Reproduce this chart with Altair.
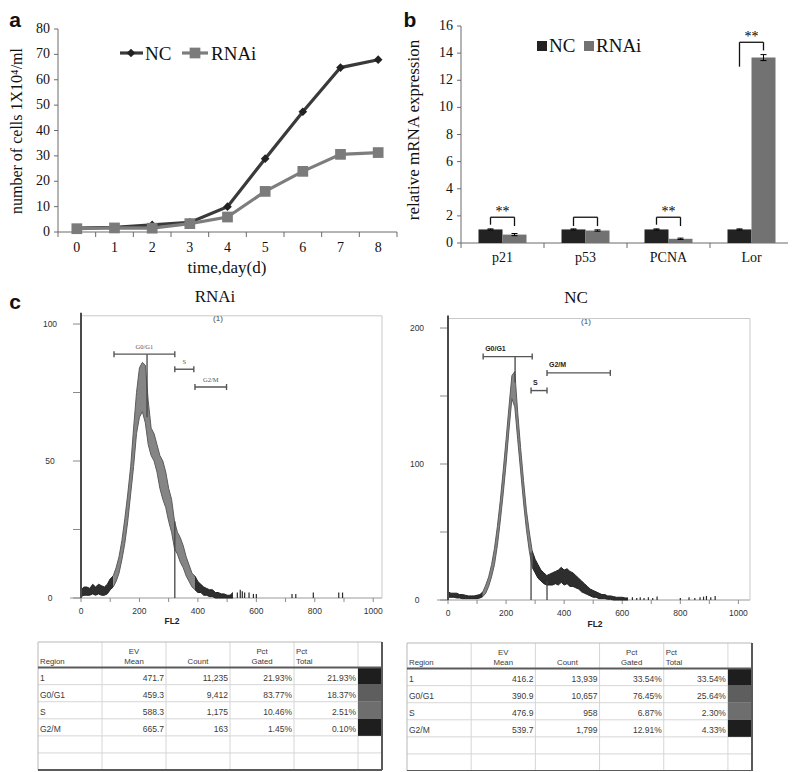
import altair as alt
import pandas as pd

OX, OY = 8, 8          # page margin: reference pixel -> chart pixel
W, H = 780, 763
SERIF = "Liberation Serif"
SANS = "Liberation Sans"

# ---------------- panel a : growth curve ----------------
days = [0, 1, 2, 3, 4, 5, 6, 7, 8]
nc_cells = [1.5, 1.8, 2.8, 3.8, 10.0, 28.9, 47.4, 64.8, 67.9]
rnai_cells = [1.3, 1.6, 1.5, 3.3, 5.9, 16.0, 23.9, 30.6, 31.3]
a_yticks = [0, 10, 20, 30, 40, 50, 60, 70, 80]

# ---------------- panel b : qPCR ----------------
genes = ["p21", "p53", "PCNA", "Lor"]
nc_expr = [1.0, 1.0, 1.0, 1.0]
nc_err = [0.04, 0.04, 0.04, 0.04]
rnai_expr = [0.62, 0.92, 0.31, 13.67]
rnai_err = [0.08, 0.05, 0.05, 0.22]
sig_marks = ["**", "", "**", "**"]
brk_top = [1.9, 1.9, 1.9, 14.8]
brk_left = [1.35, 1.25, 1.35, 13.0]
brk_right = [1.25, 1.25, 1.25, 14.2]
b_yticks = [0, 2, 4, 6, 8, 10, 12, 14, 16]

# ---------------- panel c : DNA histograms ----------------
rnai_ch = list(range(0, 530, 10))
rnai_lo = [0.5, 1, 1, 1, 1.5, 1, 1.5, 1, 1, 1.5,
           3, 4, 6, 9, 14, 20, 28, 38, 48, 60,
           66, 68, 64, 56, 52, 50, 46, 40, 36, 33,
           28, 24, 18, 16, 13, 11, 8, 6, 4, 3,
           2, 2, 1, 1, 0.5, 0.5, 0, 0, 0, 0,
           0, 0, 0]
rnai_hi = [3, 4, 4, 3.5, 5, 4, 5, 4.5, 4, 5,
           7, 8, 11, 15, 21, 29, 38, 48, 62, 75,
           84, 86, 85, 72, 62, 60, 56, 52, 50, 46,
           40, 36, 28, 24, 22, 19, 15, 12, 9, 8,
           6, 5, 4, 3.5, 3, 3, 2, 2, 1.5, 1.5,
           1, 1, 2]
rnai_spike_ch = [535, 545, 552, 560, 575, 590, 600, 722, 735, 795, 882, 895]
rnai_spike_h = [2, 3, 2.5, 2, 2, 1.5, 1.5, 1.5, 1.5, 2, 2, 2]
rnai_gate_names = ["G0/G1", "S", "G2/M"]
rnai_gate_start = [113, 321, 390]
rnai_gate_end = [321, 386, 498]
rnai_gate_level = [89, 83.5, 77]
rnai_marker_ch = [226, 321]
rnai_marker_lo = [66, 0]
rnai_marker_hi = [89, 28]

nc_ch = list(range(0, 630, 10))
nc_lo = [2, 2, 2, 1.5, 1.5, 1, 1, 1, 1, 1,
         1, 1.5, 2.5, 5, 10, 17, 26, 40, 58, 78,
         100, 125, 148, 142, 118, 95, 72, 52, 36, 24,
         20, 16, 14, 12, 11, 11, 11, 12, 11, 13,
         11, 12, 10, 10, 9, 8, 6, 5, 4, 3,
         2, 2, 1, 1, 1, 0.5, 0.5, 0, 0, 0,
         0, 0, 0]
nc_hi = [6, 5, 5, 5, 4, 4, 3.5, 3, 3, 3,
         3.5, 4, 6, 11, 17, 26, 38, 54, 73, 95,
         118, 142, 165, 168, 138, 112, 88, 66, 50, 36,
         30, 26, 22, 20, 18, 19, 20, 21, 22, 24,
         22, 23, 21, 20, 18, 16, 14, 12, 10, 8,
         7, 6, 5, 4, 4, 3, 3, 2.5, 2, 2,
         2, 1.5, 1.5]
nc_spike_ch = [635, 650, 662, 675, 690, 705, 720, 800, 830, 850, 868, 880, 890, 905, 920]
nc_spike_h = [2, 1.5, 2, 1.5, 2, 1.5, 2.5, 1.5, 2, 1.5, 2, 2.5, 3, 2, 3]
nc_gate_names = ["G0/G1", "S", "G2/M"]
nc_gate_start = [121, 286, 341]
nc_gate_end = [290, 341, 559]
nc_gate_level = [179, 154, 167]
nc_marker_ch = [231, 286, 341]
nc_marker_lo = [160, 0, 0]
nc_marker_hi = [179, 35, 14]

# ---------------- tables ----------------
tbl_regions = ["1", "G0/G1", "S", "G2/M"]
rnai_ev = ["471.7", "459.3", "588.3", "665.7"]
rnai_count = ["11,235", "9,412", "1,175", "163"]
rnai_gated = ["21.93%", "83.77%", "10.46%", "1.45%"]
rnai_total = ["21.93%", "18.37%", "2.51%", "0.10%"]
nc_ev = ["416.2", "390.9", "476.9", "539.7"]
nc_count = ["13,939", "10,657", "958", "1,799"]
nc_gated = ["33.54%", "76.45%", "6.87%", "12.91%"]
nc_total = ["33.54%", "25.64%", "2.30%", "4.33%"]
swatch_colors = ["#1e1e1e", "#5e5e5e", "#6e6e6e", "#1e1e1e"]


class Panel:
    def __init__(self, xd, xr, yd, yr):
        self.xs = alt.Scale(domain=list(xd), range=[xr[0] - OX, xr[1] - OX], nice=False, zero=False)
        self.ys = alt.Scale(domain=list(yd), range=[yr[0] - OY, yr[1] - OY], nice=False, zero=False)
        self.kx = abs(xr[1] - xr[0]) / (xd[1] - xd[0])
        self.ky = abs(yr[1] - yr[0]) / (yd[1] - yd[0])

    def enc(self, x, y, **kw):
        d = {"x": alt.X(f"{x}:Q", scale=self.xs, axis=None),
             "y": alt.Y(f"{y}:Q", scale=self.ys, axis=None)}
        d.update(kw)
        return d


layers = []


def add(c):
    layers.append(c)


def rules(p, df, x, y, x2=None, y2=None, color="#000000", w=1.0):
    kw = {}
    if x2:
        kw["x2"] = alt.X2(x2)
    if y2:
        kw["y2"] = alt.Y2(y2)
    add(alt.Chart(df).mark_rule(color=color, strokeWidth=w).encode(**p.enc(x, y, **kw)))


def texts(p, df, x, y, t, **mk):
    add(alt.Chart(df).mark_text(**mk).encode(**p.enc(x, y, text=alt.Text(f"{t}:N"))))


def label(s, px, py, **mk):
    add(alt.Chart(pd.DataFrame({"t": [s]})).mark_text(**mk).encode(
        x=alt.value(px - OX), y=alt.value(py - OY), text="t:N"))


def pix_rule(x1, y1, x2, y2, color, w):
    add(alt.Chart(pd.DataFrame({"k": [0]})).mark_rule(color=color, strokeWidth=w).encode(
        x=alt.value(x1 - OX), x2=alt.value(x2 - OX), y=alt.value(y1 - OY), y2=alt.value(y2 - OY)))


def pix_point(px, py, shape, size, color):
    add(alt.Chart(pd.DataFrame({"k": [0]})).mark_point(shape=shape, size=size, filled=True,
                                                       color=color, opacity=1).encode(
        x=alt.value(px - OX), y=alt.value(py - OY)))


# =============== panel a ===============
pa = Panel([-0.5, 8.5], [58, 397], [0, 80], [232, 29])
AX = "#6b6b6b"
ax_a = pd.DataFrame({"x0": [-0.5], "x1": [8.5], "y0": [0], "y1": [80]})
rules(pa, ax_a, "x0", "y0", x2="x1", color=AX)
rules(pa, ax_a, "x0", "y0", y2="y1", color=AX)
xt = pd.DataFrame({"x": [k - 0.5 for k in range(10)]})
xt["y0"] = 0
xt["y1"] = -5 / pa.ky
rules(pa, xt, "x", "y0", y2="y1", color=AX)
yt = pd.DataFrame({"y": a_yticks})
yt["x0"] = -0.5
yt["x1"] = -0.5 - 4 / pa.kx
yt["t"] = [str(v) for v in a_yticks]
rules(pa, yt, "x0", "y", x2="x1", color=AX)
texts(pa, yt, "x0", "y", "t", align="right", baseline="middle", dx=-8, font=SERIF, fontSize=14, color="#111")
xl = pd.DataFrame({"x": days, "y": 0, "t": [str(d) for d in days]})
texts(pa, xl, "x", "y", "t", align="center", baseline="middle", dy=16, font=SERIF, fontSize=14, color="#111")

grow = pd.DataFrame({"day": days, "nc": nc_cells, "rnai": rnai_cells})
add(alt.Chart(grow).mark_line(color="#3a3a3a", strokeWidth=3.2).encode(**pa.enc("day", "nc")))
add(alt.Chart(grow).mark_point(shape="diamond", filled=True, size=75, color="#222222", opacity=1)
    .encode(**pa.enc("day", "nc")))
add(alt.Chart(grow).mark_line(color="#7d7d7d", strokeWidth=3.2).encode(**pa.enc("day", "rnai")))
add(alt.Chart(grow).mark_point(shape="square", filled=True, size=115, color="#7b7b7b", opacity=1)
    .encode(**pa.enc("day", "rnai")))

# legend a
pix_rule(120, 53, 143, 53, "#3a3a3a", 3.2)
pix_point(131, 53, "diamond", 75, "#222222")
label("NC", 145, 54, align="left", baseline="middle", font=SERIF, fontSize=19, color="#111")
pix_rule(182, 53, 208, 53, "#7d7d7d", 3.2)
pix_point(195, 53, "square", 115, "#7b7b7b")
label("RNAi", 211, 54, align="left", baseline="middle", font=SERIF, fontSize=19, color="#111")

label("number of cells  1X10\u2074/ml", 17, 131, angle=270, align="center", baseline="middle",
      font=SERIF, fontSize=16, color="#111")
label("time,day(d)", 227, 268, align="center", baseline="middle", font=SERIF, fontSize=17, color="#111")
label("a", 15, 10, align="center", baseline="top", font=SANS, fontSize=21, fontWeight="bold", color="#111")

# =============== panel b ===============
pb = Panel([0, 4], [461, 793], [0, 16], [243, 26])
ax_b = pd.DataFrame({"x0": [0], "x1": [4], "y0": [0], "y1": [16]})
rules(pb, ax_b, "x0", "y0", x2="x1", color=AX)
rules(pb, ax_b, "x0", "y0", y2="y1", color=AX)
bxt = pd.DataFrame({"x": [0, 1, 2, 3, 4]})
bxt["y0"] = 0
bxt["y1"] = -5 / pb.ky
rules(pb, bxt, "x", "y0", y2="y1", color=AX)
byt = pd.DataFrame({"y": b_yticks})
byt["x0"] = 0
byt["x1"] = -4 / pb.kx
byt["t"] = [str(v) for v in b_yticks]
rules(pb, byt, "x0", "y", x2="x1", color=AX)
texts(pb, byt, "x0", "y", "t", align="right", baseline="middle", dx=-8, font=SERIF, fontSize=14, color="#111")
bcat = pd.DataFrame({"x": [i + 0.5 for i in range(4)], "y": 0, "t": genes})
texts(pb, bcat, "x", "y", "t", align="center", baseline="middle", dy=15, font=SERIF, fontSize=14, color="#111")

bw = 24 / pb.kx
cw = 3 / pb.kx
rows = []
for i, g in enumerate(genes):
    c = i + 0.5
    rows.append(dict(g=g, x0=c - bw, x1=c, v=nc_expr[i], e=nc_err[i], col="#222222"))
    rows.append(dict(g=g, x0=c, x1=c + bw, v=rnai_expr[i], e=rnai_err[i], col="#727272"))
bars = pd.DataFrame(rows)
bars["zero"] = 0.0
bars["xc"] = (bars["x0"] + bars["x1"]) / 2
bars["lo"] = bars["v"] - bars["e"]
bars["hi"] = bars["v"] + bars["e"]
bars["cl"] = bars["xc"] - cw
bars["cr"] = bars["xc"] + cw
add(alt.Chart(bars).mark_rect().encode(**pb.enc("x0", "zero", x2=alt.X2("x1"), y2=alt.Y2("v"),
                                                  color=alt.Color("col:N", scale=None))))
rules(pb, bars, "xc", "lo", y2="hi", color="#000", w=1)
rules(pb, bars, "cl", "hi", x2="cr", color="#000", w=1)
rules(pb, bars, "cl", "lo", x2="cr", color="#000", w=1)

brk = pd.DataFrame({"xl": [i + 0.5 - bw / 2 for i in range(4)],
                    "xr": [i + 0.5 + bw / 2 for i in range(4)],
                    "mid": [i + 0.5 for i in range(4)],
                    "top": brk_top, "lb": brk_left, "rb": brk_right, "s": sig_marks})
rules(pb, brk, "xl", "lb", y2="top", color="#111", w=1.3)
rules(pb, brk, "xr", "rb", y2="top", color="#111", w=1.3)
rules(pb, brk, "xl", "top", x2="xr", color="#111", w=1.3)
texts(pb, brk, "mid", "top", "s", align="center", baseline="middle", dy=-5, font=SERIF, fontSize=14, color="#000000")

# legend b
add(alt.Chart(pd.DataFrame({"k": [0]})).mark_square(size=100, color="#222222", opacity=1).encode(
    x=alt.value(542 - OX), y=alt.value(46 - OY)))
label("NC", 549, 46, align="left", baseline="middle", font=SERIF, fontSize=19, color="#111")
add(alt.Chart(pd.DataFrame({"k": [0]})).mark_square(size=100, color="#727272", opacity=1).encode(
    x=alt.value(589 - OX), y=alt.value(46 - OY)))
label("RNAi", 596, 46, align="left", baseline="middle", font=SERIF, fontSize=19, color="#111")
label("relative  mRNA expression", 414, 130, angle=270, align="center", baseline="middle",
      font=SERIF, fontSize=17, color="#111")
label("b", 410, 10, align="center", baseline="top", font=SANS, fontSize=21, fontWeight="bold", color="#111")


# =============== panel c : histograms ===============
def histogram(p, xmax, ymax, ch, lo, hi, segs, sp_ch, sp_h, g_names, g_start, g_end, g_lev,
              m_ch, m_lo, m_hi, yticks, ylabels, serif_gates):
    fr = pd.DataFrame({"x0": [0], "xl": [-11 / p.kx], "xm": [xmax], "y0": [0], "ym": [ymax],
                       "yt": [ymax + 3 / p.ky]})
    rules(p, fr, "xl", "y0", x2="xm", color="#9a9a9a")
    rules(p, fr, "x0", "ym", x2="xm", color="#c9c9c9")
    rules(p, fr, "xm", "y0", y2="ym", color="#c9c9c9")
    ytk = pd.DataFrame({"y": yticks})
    ytk["x0"] = 0
    ytk["x1"] = -8 / p.kx
    rules(p, ytk, "x0", "y", x2="x1", color="#8a8a8a")
    ylb = pd.DataFrame({"y": ylabels, "x": 0, "t": [str(v) for v in ylabels]})
    texts(p, ylb, "x", "y", "t", align="center", baseline="middle", dx=-31, font=SANS, fontSize=8.5,
          color="#333")
    xtk = pd.DataFrame({"x": list(range(0, 1001, 100))})
    xtk["y0"] = 0
    xtk["y1"] = -4 / p.ky
    rules(p, xtk, "x", "y0", y2="y1", color="#8a8a8a")
    xlb = pd.DataFrame({"x": list(range(0, 1001, 200)), "y": 0})
    xlb["t"] = [str(v) for v in xlb["x"]]
    texts(p, xlb, "x", "y", "t", align="center", baseline="middle", dy=13, font=SANS, fontSize=8.5,
          color="#333")

    df = pd.DataFrame({"ch": ch, "lo": lo, "hi": hi})
    for a, b, kind in segs:
        sub = df[(df.ch >= a) & (df.ch <= b)]
        fill, line = ("#858585", "#5c5c5c") if kind == "g" else ("#2e2e2e", "#222222")
        add(alt.Chart(sub).mark_area(color=fill, opacity=1).encode(**p.enc("ch", "lo", y2=alt.Y2("hi"))))
        add(alt.Chart(sub).mark_line(color=line, strokeWidth=1).encode(**p.enc("ch", "hi")))
        add(alt.Chart(sub).mark_line(color=line, strokeWidth=1).encode(**p.enc("ch", "lo")))
    sp = pd.DataFrame({"ch": sp_ch, "h": sp_h, "z": 0})
    rules(p, sp, "ch", "z", y2="h", color="#2a2a2a", w=1.2)

    # left thick axis line drawn over the data
    rules(p, fr, "x0", "y0", y2="yt", color="#4a4a4a", w=2)

    mk = pd.DataFrame({"x": m_ch, "a": m_lo, "b": m_hi})
    rules(p, mk, "x", "a", y2="b", color="#444", w=1.3)

    cap = 3 / p.ky
    gt = pd.DataFrame({"n": g_names, "g0": g_start, "g1": g_end, "lev": g_lev})
    gt["c0"] = gt["lev"] - cap
    gt["c1"] = gt["lev"] + cap
    gt["mid"] = (gt["g0"] + gt["g1"]) / 2
    rules(p, gt, "g0", "lev", x2="g1", color="#555", w=1.4)
    rules(p, gt, "g0", "c0", y2="c1", color="#555", w=1.4)
    rules(p, gt, "g1", "c0", y2="c1", color="#555", w=1.4)
    if serif_gates:
        texts(p, gt, "mid", "lev", "n", align="center", baseline="middle", dy=-7, font=SERIF,
              fontSize=6.5, color="#555555")
    else:
        texts(p, gt, "g0", "lev", "n", align="left", baseline="middle", dx=2, dy=-8, font=SANS,
              fontSize=7, fontWeight="bold", color="#222")


pr = Panel([0, 1030], [81, 382], [0, 103], [598, 315.8])
histogram(pr, 1030, 103, rnai_ch, rnai_lo, rnai_hi, [(0, 110, "d"), (110, 390, "g"), (390, 520, "d")],
          rnai_spike_ch, rnai_spike_h, rnai_gate_names, rnai_gate_start, rnai_gate_end, rnai_gate_level,
          rnai_marker_ch, rnai_marker_lo, rnai_marker_hi, [0, 25, 50, 75, 100], [0, 50, 100], True)
pn = Panel([0, 1040], [448, 750], [0, 207], [600, 318.5])
histogram(pn, 1040, 207, nc_ch, nc_lo, nc_hi, [(0, 120, "d"), (120, 290, "g"), (290, 620, "d")],
          nc_spike_ch, nc_spike_h, nc_gate_names, nc_gate_start, nc_gate_end, nc_gate_level,
          nc_marker_ch, nc_marker_lo, nc_marker_hi, [0, 50, 100, 150, 200], [0, 100, 200], False)

label("RNAi", 215, 297, align="center", baseline="middle", font=SERIF, fontSize=17, color="#111")
label("NC", 576, 298, align="center", baseline="middle", font=SERIF, fontSize=17, color="#111")
label("(1)", 218, 319, align="center", baseline="middle", font=SANS, fontSize=8, color="#444444")
label("(1)", 586, 322, align="center", baseline="middle", font=SANS, fontSize=8, color="#444444")
label("FL2", 172, 621, align="center", baseline="middle", font=SANS, fontSize=8.5, fontWeight="bold", color="#222")
label("FL2", 595, 624, align="center", baseline="middle", font=SANS, fontSize=8.5, fontWeight="bold", color="#222")
label("c", 15, 303, align="center", baseline="middle", font=SANS, fontSize=21, fontWeight="bold", color="#111")


# =============== tables ===============
def table(p, ev, count, gated, total):
    light, dark = "#d6d6d6", "#5a5a5a"
    fr = pd.DataFrame({"x0": [0], "x1": [5.375], "y0": [-1.5], "y1": [6], "yh": [0]})
    vl = pd.DataFrame({"x": [1, 2, 3, 4, 5], "y0": -1.5, "y1": 6})
    rules(p, vl, "x", "y0", y2="y1", color=light)
    hl = pd.DataFrame({"y": [1, 2, 3, 4, 5], "x0": 0, "x1": 5.375})
    rules(p, hl, "x0", "y", x2="x1", color=light)
    sw = pd.DataFrame({"x0": 5, "x1": 5.375, "y0": [0, 1, 2, 3], "y1": [1, 2, 3, 4], "col": swatch_colors})
    add(alt.Chart(sw).mark_rect().encode(**p.enc("x0", "y0", x2=alt.X2("x1"), y2=alt.Y2("y1"),
                                                   color=alt.Color("col:N", scale=None))))
    rules(p, fr, "x0", "y0", x2="x1", color="#b8b8b8")
    rules(p, fr, "x0", "y0", y2="y1", color="#b8b8b8")
    rules(p, fr, "x0", "yh", x2="x1", color=dark, w=2)
    rules(p, fr, "x1", "y0", y2="y1", color=dark, w=2)
    rules(p, fr, "x0", "y1", x2="x1", color=dark, w=2)

    hs = dict(font=SANS, fontSize=7.8, color="#3a3a3a", baseline="middle")
    st = dict(font=SANS, fontSize=8.5, color="#3a3a3a", baseline="middle")
    hc = pd.DataFrame({"x": [1.5, 1.5, 2.5, 3.5, 3.5], "y": [-0.9, -0.3, -0.3, -0.9, -0.3],
                       "t": ["EV", "Mean", "Count", "Pct", "Gated"]})
    texts(p, hc, "x", "y", "t", align="center", **hs)
    hlft = pd.DataFrame({"x": [0, 4, 4], "y": [-0.3, -0.9, -0.3], "t": ["Region", "Pct", "Total"]})
    texts(p, hlft, "x", "y", "t", align="left", dx=2, **hs)
    reg = pd.DataFrame({"x": 0, "y": [r + 0.6 for r in range(4)], "t": tbl_regions})
    texts(p, reg, "x", "y", "t", align="left", dx=2, **st)
    for c, col in enumerate([ev, count, gated, total]):
        d = pd.DataFrame({"x": c + 2, "y": [r + 0.6 for r in range(4)], "t": col})
        texts(p, d, "x", "y", "t", align="right", dx=-2, **st)


tr = Panel([0, 5.375], [38, 382], [-1.5, 6], [642, 770])
table(tr, rnai_ev, rnai_count, rnai_gated, rnai_total)
tn = Panel([0, 5.375], [407, 752], [-1.5, 6], [643, 771])
table(tn, nc_ev, nc_count, nc_gated, nc_total)

chart = (alt.layer(*layers)
         .resolve_scale(x="independent", y="independent")
         .properties(width=W, height=H, padding=0, autosize=alt.AutoSizeParams(type="none"))
         .configure_view(stroke=None))
chart.save("out.html", embed_options={"renderer": "svg", "actions": False})
